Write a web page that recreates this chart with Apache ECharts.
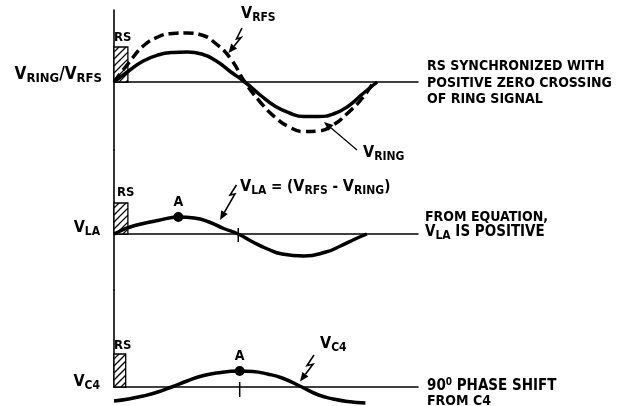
<!DOCTYPE html>
<html><head><meta charset="utf-8">
<script src="https://cdn.jsdelivr.net/npm/echarts@6/dist/echarts.min.js"></script>
<style>html,body{margin:0;padding:0;background:#fff}#c{width:625px;height:406px}</style>
</head><body><div id="c"></div>
<script>
// x values in degrees of the ring cycle, y values in relative volts
const ringX = [0, 20, 40, 60, 80, 100, 120, 140, 160, 179, 200, 220, 240, 260, 280, 300, 320, 340, 360];
const ringY = [0, 11, 21, 27, 29.5, 30, 28, 21, 10, 0, -13, -24, -31, -34.5, -34.5, -32, -24.5, -12, 0];
const rfsX = [0, 20, 40, 60, 80, 100, 120, 140, 160, 179, 200, 220, 240, 260, 280, 300, 320, 340, 355];
const rfsY = [0, 19, 36, 45, 48.5, 49, 47, 38, 23, 0, -20, -35, -45, -49.5, -49, -43, -31, -16, 0];
const laX = [0, 10, 20, 40, 60, 88, 110, 130, 150, 170, 190, 210, 230, 260, 290, 310, 330, 346];
const laY = [0, 3.5, 6.5, 10.5, 13.5, 17, 16, 12, 5.5, 0, -8, -15, -20, -22, -18, -12, -5, 0];
const c4X = [0, 20, 40, 60, 79, 100, 120, 140, 172, 190, 210, 230, 257, 280, 300, 320, 344];
const c4Y = [-14, -12, -9, -5, 0, 6, 11, 14, 16, 15.5, 13, 9, 0, -8, -12, -14.5, -16];
const pointA = [[88, 17], [172, 16]];
const tickX = [170, 172];
const tickLo = [-8, -10];
const tickHi = [6, 5];
const rsW = [19, 19, 16];
const rsH = [35, 31, 33];
const xMax = 416;

const fam = '"Liberation Sans Narrow", "DejaVu Sans Condensed", "Liberation Sans", sans-serif';
const zip = (a, b) => a.map((v, i) => [v, b[i]]);

const chart = echarts.init(document.getElementById('c'));

function rsRender(params, api) {
  const w = api.value(0), h = api.value(1);
  const p0 = api.coord([0, 0]), p1 = api.coord([w, h]);
  const x0 = p0[0], x1 = p1[0], y0 = p1[1], y1 = p0[1];
  const children = [{type: 'rect', shape: {x: x0, y: y0, width: x1 - x0, height: y1 - y0},
    style: {fill: '#fff', stroke: '#000', lineWidth: 1.3}}];
  for (let c = x0 + y0 + 5; c < x1 + y1; c += 7) {
    const xa = Math.max(x0, c - y1), xb = Math.min(x1, c - y0);
    if (xb > xa) children.push({type: 'line', shape: {x1: xa, y1: c - xa, x2: xb, y2: c - xb},
      style: {stroke: '#000', lineWidth: 1.3}});
  }
  return {type: 'group', children};
}

const grids = [
  {left: 114, width: 304, top: 10, height: 140},
  {left: 114, width: 304, top: 150, height: 140},
  {left: 114, width: 304, top: 290, height: 97}
];
const yRanges = [[-68, 72], [-56, 84], [0, 97]];

const axisLine = {show: true, onZero: true, lineStyle: {color: '#000', width: 1.5}};
const xAxes = grids.map((g, i) => ({type: 'value', gridIndex: i, min: 0, max: xMax,
  axisLine: axisLine, axisTick: {show: false}, axisLabel: {show: false}, splitLine: {show: false}}));
const yAxes = grids.map((g, i) => ({type: 'value', gridIndex: i, min: yRanges[i][0], max: yRanges[i][1],
  axisLine: {show: true, onZero: false, lineStyle: {color: '#000', width: 1.6}},
  axisTick: {show: false}, axisLabel: {show: false}, splitLine: {show: false}}));

const series = [];
rsW.forEach((w, i) => series.push({type: 'custom', xAxisIndex: i, yAxisIndex: i, renderItem: rsRender,
  data: [[w, rsH[i]]], z: 1, silent: true, clip: false}));
const lineBase = {type: 'line', symbol: 'none', smooth: 0.5, clip: false, z: 3, silent: true};
series.push(Object.assign({}, lineBase, {name: 'VRFS', xAxisIndex: 0, yAxisIndex: 0, data: zip(rfsX, rfsY),
  lineStyle: {color: '#000', width: 3.5, type: [10, 5]}}));
series.push(Object.assign({}, lineBase, {name: 'VRING', xAxisIndex: 0, yAxisIndex: 0, data: zip(ringX, ringY),
  lineStyle: {color: '#000', width: 3.5}}));
series.push(Object.assign({}, lineBase, {name: 'VLA', xAxisIndex: 1, yAxisIndex: 1, data: zip(laX, laY),
  lineStyle: {color: '#000', width: 3.5}}));
series.push(Object.assign({}, lineBase, {name: 'VC4', xAxisIndex: 2, yAxisIndex: 2, data: zip(c4X, c4Y),
  lineStyle: {color: '#000', width: 3.5}}));
tickX.forEach((t, i) => series.push({type: 'line', symbol: 'none', xAxisIndex: i + 1, yAxisIndex: i + 1,
  clip: false, silent: true, z: 4, data: [[t, tickLo[i]], [t, tickHi[i]]], lineStyle: {color: '#000', width: 1.5}}));
pointA.forEach((p, i) => series.push({type: 'scatter', xAxisIndex: i + 1, yAxisIndex: i + 1, symbolSize: 10,
  z: 5, silent: true, data: [p], itemStyle: {color: '#000', opacity: 1},
  label: {show: true, position: 'top', distance: 3, formatter: 'A', color: '#000', fontSize: 14, fontWeight: 'bold', fontFamily: fam}}));

function bolt(pts, lw) {
  const n = pts.length, tip = pts[n - 1], prev = pts[n - 2];
  const dx = tip[0] - prev[0], dy = tip[1] - prev[1], L = Math.hypot(dx, dy), ux = dx / L, uy = dy / L;
  const hl = 9, hw = 3.8;
  const bx = tip[0] - ux * hl, by = tip[1] - uy * hl;
  const line = pts.slice(0, n - 1).concat([[bx, by]]);
  return [{type: 'polyline', shape: {points: line}, style: {stroke: '#000', lineWidth: lw, fill: null}},
    {type: 'polygon', shape: {points: [tip, [bx - uy * hw, by + ux * hw], [bx + uy * hw, by - ux * hw]]}, style: {fill: '#000'}}];
}

const rich = {
  v: {fontSize: 16, fontWeight: 'bold', fontFamily: fam, fill: '#000'},
  s: {fontSize: 12, fontWeight: 'bold', fontFamily: fam, fill: '#000', padding: [7, 0, 0, 0]},
  V: {fontSize: 17, fontWeight: 'bold', fontFamily: fam, fill: '#000'},
  S: {fontSize: 13, fontWeight: 'bold', fontFamily: fam, fill: '#000', padding: [7, 0, 0, 0]},
  n: {fontSize: 15, fontWeight: 'bold', fontFamily: fam, fill: '#000'},
  sup: {fontSize: 10, fontWeight: 'bold', fontFamily: fam, fill: '#000', padding: [0, 0, 7, 0]}
};
function txt(text, x, y, align, size) {
  return {type: 'text', z: 10, silent: true, style: {text, x, y, align: align || 'left', verticalAlign: 'middle',
    fontSize: size || 15, fontWeight: 'bold', fontFamily: fam, fill: '#000', rich}};
}

const graphic = [].concat(
  bolt([[242, 28], [236.5, 39], [241, 37.5], [228.5, 53]], 1.6),
  bolt([[236.5, 185], [230, 195], [235, 194], [220, 220]], 1.6),
  bolt([[314, 355], [307, 365.5], [313, 364.3], [300, 381.5]], 1.6),
  bolt([[357, 150], [324, 122]], 1.2),
  [
    txt('{v|V}{s|RFS}', 241, 14),
    txt('{v|V}{s|RING}', 363, 153),
    txt('{v|V}{s|LA}{n| = (}{v|V}{s|RFS}{n| - }{v|V}{s|RING}{n|)}', 240, 187),
    txt('{v|V}{s|C4}', 320, 344),
    txt('{V|V}{S|RING}{V|/V}{S|RFS}', 102, 75, 'right'),
    txt('{v|V}{s|LA}', 100, 228, 'right'),
    txt('{v|V}{s|C4}', 100, 382, 'right'),
    txt('RS', 114, 38, 'left', 13),
    txt('RS', 117, 193, 'left', 13),
    txt('RS', 114, 346, 'left', 13),
    txt('RS SYNCHRONIZED WITH', 427, 66, 'left', 14),
    txt('POSITIVE ZERO CROSSING', 427, 83, 'left', 14),
    txt('OF RING SIGNAL', 427, 99, 'left', 14),
    txt('FROM EQUATION,', 425, 217, 'left', 14),
    txt('{n|V}{s|LA}{n| IS POSITIVE}', 425, 232, 'left', 14),
    txt('{n|9}{n|0}{sup|0}{n| PHASE SHIFT}', 427, 386, 'left', 14),
    txt('FROM C4', 427, 401, 'left', 14)
  ]
);

chart.setOption({
  animation: false,
  backgroundColor: '#fff',
  grid: grids,
  xAxis: xAxes,
  yAxis: yAxes,
  series: series,
  graphic: graphic
});
</script></body></html>
